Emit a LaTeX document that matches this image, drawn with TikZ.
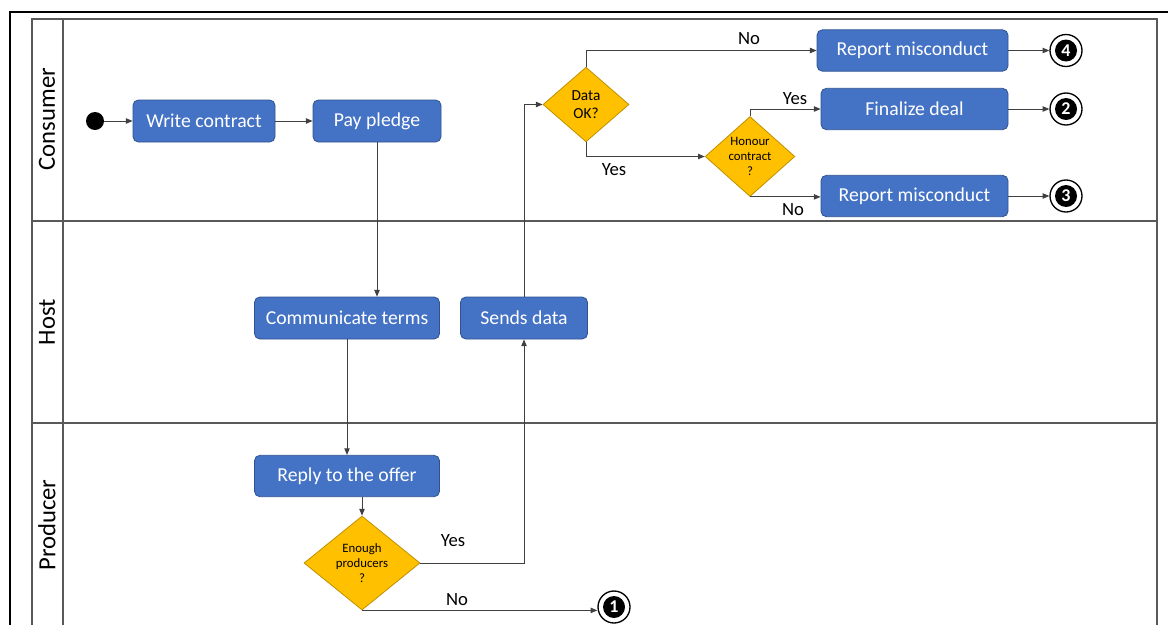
\documentclass[tikz,border=0pt]{standalone}
\usepackage{fontspec}
\setmainfont{Carlito}
\usetikzlibrary{shapes.geometric,arrows.meta}
\definecolor{boxblue}{HTML}{4472C4}
\definecolor{boxedge}{HTML}{2F528F}
\definecolor{diafill}{HTML}{FFC000}
\definecolor{diaedge}{HTML}{BF9000}
\definecolor{lanegray}{HTML}{595959}
\definecolor{linec}{HTML}{404040}
\begin{document}
\begin{tikzpicture}[x=0.75pt,y=-0.75pt,
 proc/.style={draw=boxedge, fill=boxblue, rounded corners=4pt, text=white, font=\fontsize{14.8}{16}\selectfont, minimum height=31.5pt, inner sep=0pt, line width=0.6pt},
 dec/.style={diamond, draw=diaedge, fill=diafill, inner sep=0pt, shape aspect=1.2, align=center, line width=0.6pt},
 flow/.style={draw=linec, line width=0.75pt, -{Triangle[length=5pt,width=4pt]}},
 lbl/.style={font=\fontsize{14}{16}\selectfont},
 endc/.style={circle, draw=black, fill=white, line width=1pt, minimum size=24pt, inner sep=0pt},
 endn/.style={circle, fill=black, minimum size=16.5pt, inner sep=0pt, text=white, font=\fontsize{13.5}{13.5}\selectfont\bfseries},
 lanetxt/.style={rotate=90, font=\fontsize{18.5}{20}\selectfont},
 lane/.style={draw=lanegray, line width=1pt}
]
\useasboundingbox (0,0) rectangle (1169,625);
% frames
\draw[line width=1.5pt] (10,625) -- (10,12) -- (1168,12);
\draw[lane] (32,625) -- (32,19) -- (1157,19) -- (1157,625);
\draw[lane] (63,19) -- (63,625);
\draw[lane] (32,221) -- (1157,221);
\draw[lane] (32,423) -- (1157,423);
\node[lanetxt] (lc) at (47,119) {Consumer};
\node[lanetxt] (lh) at (47,322) {Host};
\node[lanetxt] (lp) at (47,525) {Producer};

% nodes
\node[circle, fill=black, minimum size=13.5pt, inner sep=0pt] (start) at (95,121) {};
\node[proc, minimum width=106.5pt] (wc) at (204,121) {Write contract};
\node[proc, minimum width=96pt] (pp) at (377,121) {Pay pledge};
\node[proc, minimum width=138.75pt] (ct) at (347,318) {Communicate terms};
\node[proc, minimum width=95.25pt] (sd) at (524,318) {Sends data};
\node[proc, minimum width=138.75pt, minimum height=31pt] (ro) at (347,476) {Reply to the offer};
\node[dec, minimum width=87pt, minimum height=70.5pt, font=\fontsize{9.6}{11.5}\selectfont] (ep) at (362,563) {Enough\\producers\\?};
\node[dec, minimum width=64.5pt, minimum height=56pt, font=\fontsize{11.5}{13.5}\selectfont] (dok) at (586,104.5) {Data\\OK?};
\node[dec, minimum width=67pt, minimum height=60pt, font=\fontsize{9.6}{11.5}\selectfont] (hc) at (750,156.5) {Honour\\contract\\?};
\node[proc, minimum width=143.25pt, minimum height=31pt] (rm1) at (912.5,50.5) {Report misconduct};
\node[proc, minimum width=140.25pt, minimum height=31pt] (fd) at (914.5,109) {Finalize deal};
\node[proc, minimum width=140.25pt, minimum height=31pt] (rm2) at (914.5,196) {Report misconduct};
\node[endc] (e1) at (614,607) {};
\node[endn] (e1n) at (e1) {1};
\node[endc] (e4) at (1066,50.5) {};
\node[endn] (e4n) at (e4) {4};
\node[endc] (e2) at (1066,109) {};
\node[endn] (e2n) at (e2) {2};
\node[endc] (e3) at (1066,196) {};
\node[endn] (e3n) at (e3) {3};

% connectors
\draw[flow] (start) -- (wc);
\draw[flow] (wc) -- (pp);
\draw[flow] (pp.south) -- (pp.south |- ct.north);
\draw[flow] (ct.south) -- (ro.north);
\draw[flow] (ep.north |- ro.south) -- (ep.north);
\draw[flow] (ep.east) -| (sd.south);
\draw[flow] (sd.north) |- (dok.west);
\draw[flow] (dok.north) |- (rm1.west);
\draw[flow] (dok.south) |- (hc.west);
\draw[flow] (hc.north) |- (fd.west);
\draw[flow] (hc.south) -- (hc.south -| rm2.west);
\draw[flow] (ep.south) -- (ep.south -| e1.west);
\draw[flow] (rm1) -- (e4);
\draw[flow] (fd) -- (e2);
\draw[flow] (rm2) -- (e3);

% labels
\node[lbl] (l1) at (749,39) {No};
\node[lbl] (l2) at (614,170) {Yes};
\node[lbl] (l3) at (795,99) {Yes};
\node[lbl] (l4) at (793,210) {No};
\node[lbl] (l5) at (453,541) {Yes};
\node[lbl] (l6) at (457,600) {No};
\end{tikzpicture}
\end{document}
